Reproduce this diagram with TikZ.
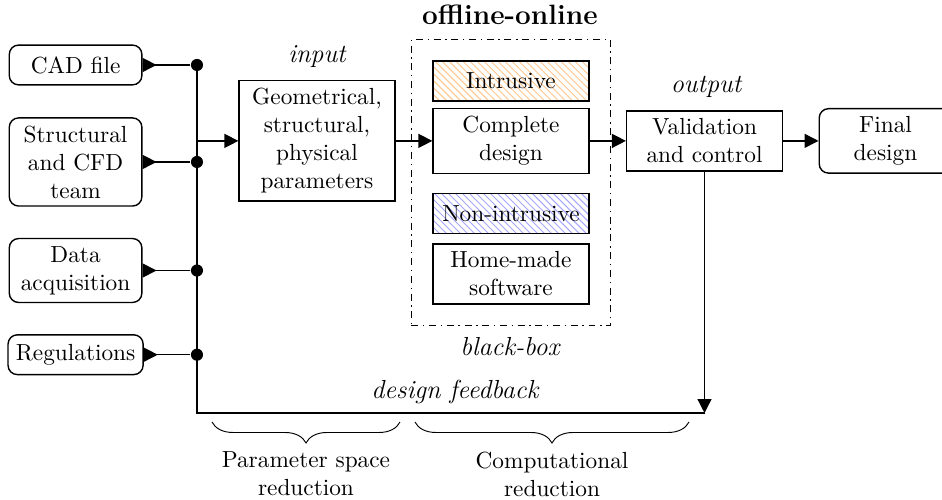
\documentclass[tikz,border=0pt]{standalone}
\usetikzlibrary{shapes,positioning,arrows.meta,patterns,fit,calc,decorations.pathreplacing}

\begin{document}
\begin{tikzpicture}[
    >={Triangle[length=6pt,width=6pt]},
    line/.style={semithick},
    source/.style={
        draw, semithick, rounded corners=4pt, align=center,
        minimum width=2cm, minimum height=0.6cm,
    },
    block/.style={
        draw, semithick, rectangle, align=center,
        minimum width=2.35cm, minimum height=0.6cm,
    },
    dot/.style={circle, fill, inner sep=0pt, minimum size=5.2pt},
    tag/.style={font=\fontsize{11.2}{13.5}\selectfont\itshape},
    brace/.style={decorate, decoration={brace, mirror, amplitude=9pt}},
    ]
    \useasboundingbox (0,0) rectangle (14.208,-7.541);

    \node[source] (cad)   at (1.14,-0.98)  {CAD file};
    \node[source] (team)  at (1.14,-2.443) {Structural\\and CFD\\team};
    \node[source] (data)  at (1.14,-4.08)  {Data\\acquisition};
    \node[source] (rules) at (1.14,-5.35)  {Regulations};

    \coordinate (bus)    at (2.971,-2.125);
    \coordinate (busend) at (2.971,-6.229);
    \foreach \s in {cad,team,data,rules}
        \node[dot] (d\s) at (\s.east -| bus) {};

    \node[block] (param) at (4.781,-2.125) {Geometrical,\\structural,\\physical\\parameters};

    \node[block, pattern=north west lines, pattern color=orange!45] (intr) at (7.707,-1.222) {Intrusive};
    \node[block] (complete) at (7.707,-2.125) {Complete\\design};
    \node[block, pattern=north west lines, pattern color=blue!35] (nonintr) at (7.707,-3.220) {Non-intrusive};
    \node[block] (home) at (7.707,-4.133) {Home-made\\software};
    \node[draw, semithick, dash dot, inner sep=9pt, fit=(intr)(home)] (bb) {};

    \node[block]  (val)   at (10.626,-2.125) {Validation\\and control};
    \node[source] (final) at (13.356,-2.125) {Final\\design};
    \coordinate (back) at (val.south |- busend);

    \node[font=\large\bfseries] (title) at (7.69,-0.23) {offline-online};
    \node[tag] (in)  at (4.781,-0.86) {input};
    \node[tag] (out) at (10.65,-1.31) {output};
    \node[tag] (bbox) at (7.69,-5.234) {black-box};
    \node[tag] (fb)  at (6.86,-5.91) {design feedback};

    \foreach \s in {cad,team,data,rules}
        \draw[line,-<] (d\s) -- (\s.east);
    \draw[line] (dcad) -- (busend) -- (back);
    \draw[line,->] (bus) -- (param);
    \draw[line,->] (param) -- (complete);
    \draw[line,->] (complete) -- (val);
    \draw[line,->] (val) -- (final);
    \draw[line,->] (val.south) -- (back);

    \coordinate (b1l) at (3.198,-6.365);
    \coordinate (b1r) at (6.033,-6.365);
    \coordinate (b2l) at (6.259,-6.365);
    \coordinate (b2r) at (10.392,-6.365);
    \draw[brace] (b1l) -- (b1r);
    \draw[brace] (b2l) -- (b2r);
    \node[align=center] (psr) at (4.615,-7.149) {Parameter space\\reduction};
    \node[align=center] (cr)  at (8.326,-7.149) {Computational\\reduction};

\end{tikzpicture}
\end{document}
